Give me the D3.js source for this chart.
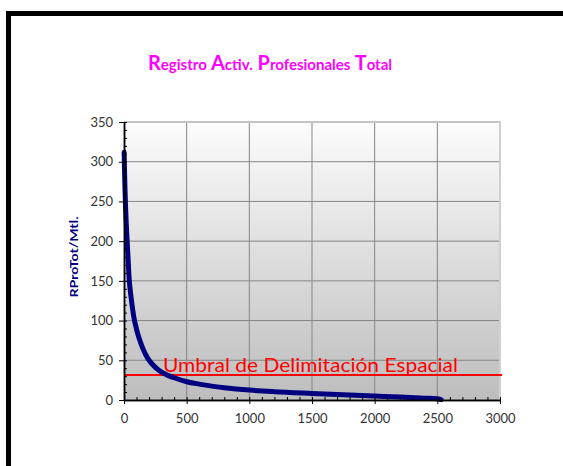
<!DOCTYPE html>
<html>
<head>
<meta charset="utf-8">
<script src="https://cdn.jsdelivr.net/npm/d3@7"></script>
<style>
  body { margin: 0; background: #fff; }
  svg { display: block; }
  .tick text { font-family: "Century Gothic", "URW Gothic", Lato, sans-serif; font-size: 13px; fill: #333; }
</style>
</head>
<body>
<svg id="chart"></svg>
<script>
const width = 563, height = 466;

// rank (x) vs RProTot/Mtl. (y)
const rank = [1, 4, 8, 12, 18, 25, 32, 40, 50, 60, 80, 100, 120, 150, 180, 200, 250, 300, 350, 400,
  500, 600, 700, 800, 1000, 1200, 1500, 1800, 2000, 2200, 2400, 2500, 2530];
const value = [312, 290, 265, 245, 222, 200, 180, 155, 138, 125, 103, 89, 78, 65, 55, 50, 41, 35, 31, 28,
  23, 20, 17.5, 15.5, 12.5, 10.5, 8.3, 6.3, 5, 3.8, 2.3, 1.5, 0.5];
const threshold = 31.5;
const xTicks = [0, 500, 1000, 1500, 2000, 2500, 3000];
const yTicks = [0, 50, 100, 150, 200, 250, 300, 350];

const font = "\"Century Gothic\", \"URW Gothic\", Lato, sans-serif";

const svg = d3.select("#chart").attr("width", width).attr("height", height);

// outer frame (only top/left visible)
svg.append("rect")
  .attr("x", 8.5).attr("y", 13.5)
  .attr("width", 600).attr("height", 500)
  .attr("fill", "#fff").attr("stroke", "#000").attr("stroke-width", 5);

const plot = { left: 124, right: 500, top: 122, bottom: 400 };

const x = d3.scaleLinear().domain([0, 3000]).range([plot.left, plot.right]);
const y = d3.scaleLinear().domain([0, 350]).range([plot.bottom, plot.top]);

const defs = svg.append("defs");
const grad = defs.append("linearGradient").attr("id", "bg")
  .attr("x1", 0).attr("y1", 0).attr("x2", 0).attr("y2", 1);
grad.append("stop").attr("offset", "0%").attr("stop-color", "#fcfcfc");
grad.append("stop").attr("offset", "100%").attr("stop-color", "#bdbdbd");

svg.append("rect")
  .attr("x", plot.left).attr("y", plot.top)
  .attr("width", plot.right - plot.left).attr("height", plot.bottom - plot.top)
  .attr("fill", "url(#bg)");

// grid
const g = svg.append("g");
g.selectAll(".hgrid").data(yTicks.slice(1, -1)).join("line")
  .attr("x1", plot.left).attr("x2", plot.right)
  .attr("y1", d => y(d)).attr("y2", d => y(d))
  .attr("stroke", "#858585").attr("stroke-width", 1);
g.selectAll(".vgrid").data(xTicks.slice(1, -1)).join("line")
  .attr("y1", plot.top).attr("y2", plot.bottom)
  .attr("x1", d => x(d)).attr("x2", d => x(d))
  .attr("stroke", "#858585").attr("stroke-width", 1);

// light top / right borders
svg.append("line").attr("x1", plot.left).attr("x2", plot.right + 1)
  .attr("y1", plot.top).attr("y2", plot.top)
  .attr("stroke", "#c4c4c4").attr("stroke-width", 2);
svg.append("line").attr("x1", plot.right).attr("x2", plot.right)
  .attr("y1", plot.top).attr("y2", plot.bottom)
  .attr("stroke", "#d0d0d0").attr("stroke-width", 2);

// threshold line + label
svg.append("line")
  .attr("x1", x(0)).attr("x2", plot.right + 2)
  .attr("y1", y(threshold)).attr("y2", y(threshold))
  .attr("stroke", "#ff0000").attr("stroke-width", 2);

svg.append("text")
  .attr("x", 163).attr("y", 372)
  .attr("font-family", font)
  .attr("font-size", 19)
  .attr("fill", "#ff0000")
  .attr("textLength", 295).attr("lengthAdjust", "spacingAndGlyphs")
  .text("Umbral de Delimitación Espacial");

// curve
const pts = rank.map((r, i) => [r, value[i]]);
svg.append("path")
  .datum(pts)
  .attr("fill", "none")
  .attr("stroke", "#000080")
  .attr("stroke-width", 5)
  .attr("stroke-linecap", "round")
  .attr("stroke-linejoin", "round")
  .attr("d", d3.line().x(d => x(d[0])).y(d => y(d[1])).curve(d3.curveMonotoneX));

// axes
svg.append("g").attr("transform", `translate(${plot.left},0)`)
  .call(d3.axisLeft(y).tickValues(yTicks).tickSize(5).tickPadding(6).tickSizeOuter(0));
svg.append("g").attr("transform", `translate(${plot.left},0)`)
  .call(d3.axisRight(y).tickValues(d3.range(0, 351, 10)).tickSize(3).tickFormat("").tickSizeOuter(0));

svg.append("g").attr("transform", `translate(0,${plot.bottom})`)
  .call(d3.axisBottom(x).tickValues(xTicks).tickFormat(d3.format("d")).tickSize(4).tickPadding(10).tickSizeOuter(0));
svg.append("g").attr("transform", `translate(0,${plot.bottom})`)
  .call(d3.axisTop(x).tickValues(d3.range(0, 3001, 100)).tickSize(3).tickFormat("").tickSizeOuter(0));

svg.selectAll(".domain").attr("stroke", "#000").attr("stroke-width", 1.5);
svg.selectAll(".tick line").attr("stroke", "#000");

// title
const title = svg.append("text")
  .attr("x", 270).attr("y", 70)
  .attr("text-anchor", "middle")
  .attr("font-family", font)
  .attr("font-weight", "bold")
  .attr("fill", "#ff00ff");
const words = ["Registro", "Activ.", "Profesionales", "Total"];
words.forEach((w, i) => {
  title.append("tspan").attr("font-size", 20).text((i ? " " : "") + w[0]);
  title.append("tspan").attr("font-size", 15).text(w.slice(1));
});

// y axis label
svg.append("text")
  .attr("transform", "translate(78,257) rotate(-90)")
  .attr("text-anchor", "middle")
  .attr("font-family", font)
  .attr("font-weight", "bold")
  .attr("font-size", 12)
  .attr("fill", "#000080")
  .attr("textLength", 81).attr("lengthAdjust", "spacingAndGlyphs")
  .text("RProTot/Mtl.");
</script>
</body>
</html>
